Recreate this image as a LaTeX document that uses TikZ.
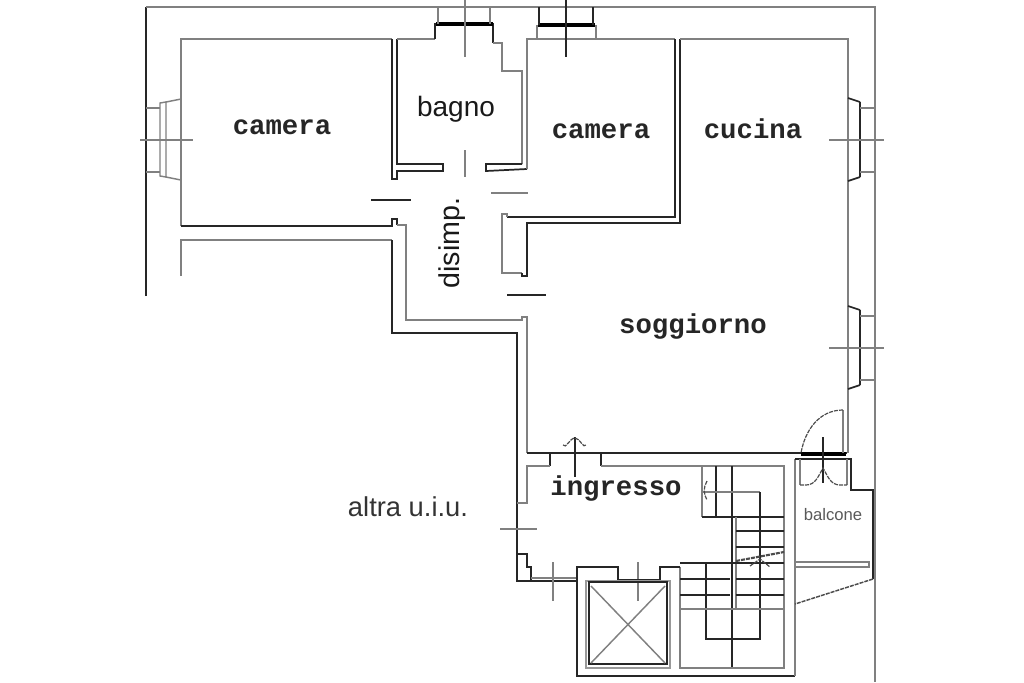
\documentclass[tikz,border=0pt]{standalone}
\usepackage{fontspec}
\setmainfont{Liberation Sans}
\setmonofont{Liberation Mono}
\tikzset{
  wallgray/.style={draw=black!50,line width=1.1pt},
  walldark/.style={draw=black!85,line width=1.3pt},
  wallthick/.style={draw=black,line width=2.4pt},
  swing/.style={draw=black!70,line width=0.9pt,dash pattern=on 3pt off 0.8pt},
  roomlabel/.style={font=\ttfamily\bfseries\fontsize{20.5}{23}\selectfont,text=black!85,inner sep=0pt},
  noteleft/.style={font=\fontsize{20.5}{23}\selectfont,text=black!80,inner sep=0pt},
}
\begin{document}
\begin{tikzpicture}[x=0.75pt,y=-0.75pt]
    \useasboundingbox (0,0) rectangle (1024,682);
    % outer outline
    \draw[walldark] (146,296) -- (146,7);
    \draw[wallgray] (146,7) -- (875,7) -- (875,682);
    % camera left
    \draw[wallgray] (392,39) -- (181,39) -- (181,226);
    \draw[walldark] (181,226) -- (392,226) -- (392,219) -- (397,219) -- (397,225);
    \draw[wallgray] (397,225) -- (406,225) -- (406,320) -- (522,320) -- (522,317) -- (527,317) -- (527,453);
    \draw[wallgray] (181,276) -- (181,240) -- (392,240);
    \draw[walldark] (392,240) -- (392,333) -- (517,333) -- (517,581) -- (577,581);
    % window camera left
    \draw[wallgray] (181,99) -- (166,102) -- (166,177) -- (181,180);
    \draw[wallgray] (166,102) -- (160,103) -- (160,176) -- (166,177);
    \draw[wallgray] (146,108) -- (160,108) (146,172) -- (160,172);
    \draw[wallgray] (140,140) -- (193,140);
    % bagno
    \draw[walldark] (392,39) -- (392,179) -- (397,179) -- (397,171) -- (443,171) -- (443,164) -- (397,164) -- (397,39);
    \draw[wallgray] (397,39) -- (435,39);
    \draw[walldark] (435,39) -- (435,24) -- (493,24) -- (493,43);
    \draw[wallthick] (436,24) -- (493,24);
    \draw[wallgray] (493,43) -- (502,43) -- (502,71) -- (522,71) -- (522,164);
    \draw[walldark] (522,164) -- (486,164) -- (486,171) -- (527,169);
    \draw[wallgray] (438,7) -- (438,24) (490,7) -- (490,24);
    \draw[wallgray] (465,0) -- (465,57);
    \draw[wallgray] (465,150) -- (465,177);
    \draw[walldark] (371,200) -- (411,200);
    \draw[wallgray] (491,193) -- (528,193);
    \draw[walldark] (507,295) -- (546,295);
    % camera right and cucina
    \draw[wallgray] (527,169) -- (527,39) -- (675,39);
    \draw[walldark] (675,39) -- (675,217) -- (507,217);
    \draw[wallgray] (507,217) -- (507,214) -- (502,214) -- (502,273) -- (522,273);
    \draw[walldark] (522,273) -- (522,276) -- (527,276) -- (527,223) -- (680,223) -- (680,39);
    \draw[wallgray] (680,39) -- (848,39) -- (848,453);
    \draw[wallgray] (537,39) -- (537,25) (596,39) -- (596,25);
    \draw[wallthick] (538,25) -- (595,25);
    \draw[walldark] (539,7) -- (539,25) (593,7) -- (593,25);
    \draw[walldark] (566,0) -- (566,57);
    % windows on the right
    \foreach \dy in {0,208} {
      \draw[walldark] (848,98+\dy) -- (860,102+\dy);
      \draw[walldark] (848,181+\dy) -- (860,177+\dy);
      \draw[walldark,line width=1.6pt] (860,102+\dy) -- (860,177+\dy);
      \draw[wallgray] (860,108+\dy) -- (875,108+\dy) (860,172+\dy) -- (875,172+\dy);
      \draw[wallgray] (829,140+\dy) -- (884,140+\dy);
    }
    % ingresso
    \draw[walldark] (527,453) -- (847,453);
    \draw[walldark] (550,466) -- (550,453) (601,453) -- (601,466);
    \draw[wallgray] (550,466) -- (527,466) -- (527,503) -- (517,503);
    \draw[wallgray] (601,466) -- (784,466) -- (784,668) -- (680,668) -- (680,567);
    \draw[walldark] (575,437) -- (575,477);
    \draw[swing] (563,445) to [out=-60,in=180] (575,438) to [out=0,in=-120] (586,445);
    \draw[wallgray] (500,529) -- (537,529);
    \draw[walldark] (517,554) -- (527,554) -- (527,567) -- (531,567) -- (531,581);
    \draw[wallgray] (531,578) -- (577,578);
    \draw[wallgray] (553,562) -- (553,601) (638,562) -- (638,601);
    % lift
    \draw[walldark] (577,581) -- (577,567) -- (618,567) -- (618,580) -- (660,580) -- (660,567) -- (680,567);
    \draw[walldark] (577,581) -- (577,676) -- (795,676);
    \draw[wallgray,draw=black!40,line width=1.6pt] (586,581) rectangle (670,668);
    \draw[walldark,line width=1.6pt] (589,582) rectangle (667,664);
    \draw[wallgray] (591,586) -- (665,663) (665,586) -- (591,663);
    % stairs
    \draw[wallgray] (702,466) -- (702,517);
    \draw[walldark] (716,466) -- (716,517) (732,466) -- (732,667);
    \draw[wallgray] (702,492) -- (760,492);
    \draw[walldark] (760,492) -- (760,639) -- (706,639) -- (706,563);
    \draw[walldark] (702,517) -- (784,517);
    \draw[wallgray] (736,517) -- (736,609);
    \foreach \yy in {531,547} {
      \draw[walldark] (736,\yy) -- (784,\yy);
    }
    \draw[walldark] (680,563) -- (784,563);
    \foreach \yy in {579,595} {
      \draw[walldark] (680,\yy) -- (730,\yy) (736,\yy) -- (784,\yy);
    }
    \draw[wallgray] (680,609) -- (784,609);
    \draw[swing,line width=1.6pt] (736,561) -- (784,552);
    \draw[swing] (750,566) -- (760,559) -- (770,567);
    \draw[swing] (707,481) to [out=-120,in=120] (707,500);
    % balcone
    \draw[wallgray] (795,459) -- (795,676);
    \draw[walldark] (795,459) -- (851,459) -- (851,490) -- (873,490) -- (873,579);
    \draw[swing,line width=1.1pt] (873,579) -- (795,604);
    \draw[wallgray] (795,562) rectangle (869,567);
    \draw[wallthick] (801,454) -- (846,454);
    \draw[wallgray] (843,453) -- (843,410);
    \draw[swing] (843,410) to [out=180,in=80] (801,453);
    \draw[walldark] (823,437) -- (823,483);
    \draw[wallgray] (800,459) -- (800,485) (847,459) -- (847,485);
    \draw[swing] (800,485) -- (806,485) to [out=0,in=-120] (823,468) to [out=-60,in=180] (840,485) -- (847,485);
    % labels
    \node[roomlabel] (cameraA) at (282,127) {camera};
    \node[roomlabel] (cameraB) at (601,131) {camera};
    \node[roomlabel] (cucina) at (753,129) {cucina};
    \node[roomlabel] (soggiorno) at (693,326) {soggiorno};
    \node[roomlabel] (ingresso) at (616,488) {ingresso};
    \node[noteleft,font=\fontsize{21}{23}\selectfont,text=black!90] (bagno) at (456,109) {bagno};
    \node[noteleft,font=\fontsize{21.5}{23}\selectfont,text=black!90,rotate=90] (disimp) at (452,243) {disimp.};
    \node[noteleft] (altra) at (408,507) {altra u.i.u.};
    \node[noteleft,font=\fontsize{12.5}{14}\selectfont,text=black!65] (balcone) at (833,515) {balcone};
\end{tikzpicture}
\end{document}
